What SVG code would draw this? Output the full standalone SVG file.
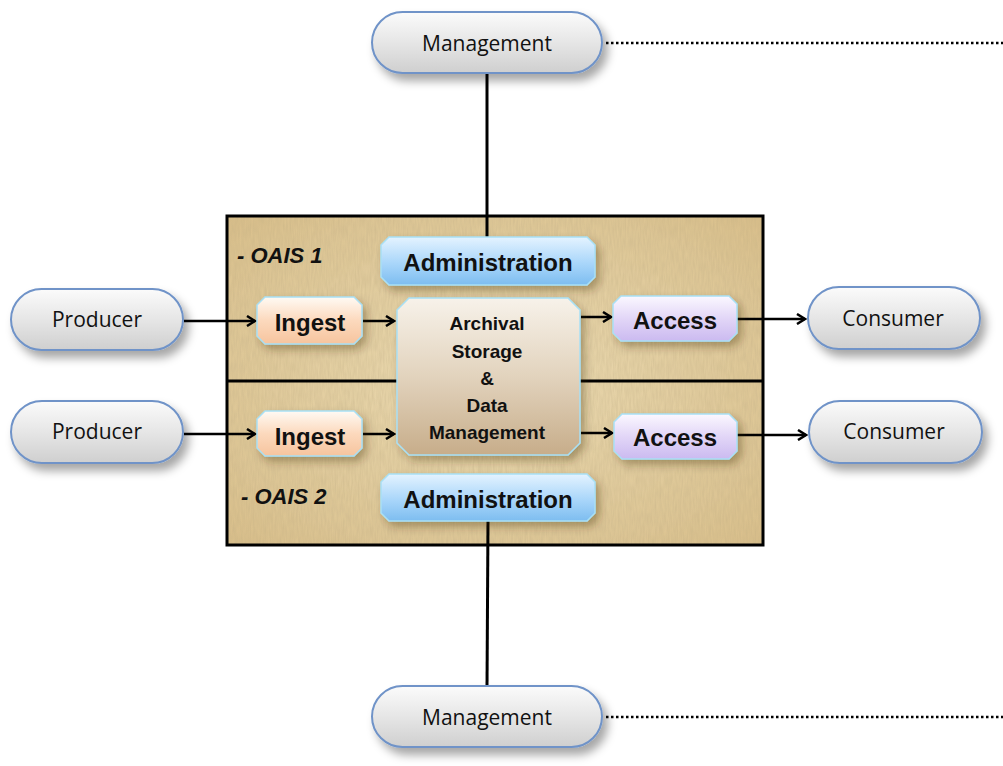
<svg xmlns="http://www.w3.org/2000/svg" width="1003" height="766" viewBox="0 0 1003 766">
<defs>
<linearGradient id="gPill" x1="0" y1="0" x2="0" y2="1"><stop offset="0" stop-color="#fbfbfb"/><stop offset="0.5" stop-color="#e6e6e6"/><stop offset="1" stop-color="#cfcfcf"/></linearGradient>
<linearGradient id="gAdmin" x1="0" y1="0" x2="0" y2="1"><stop offset="0" stop-color="#e4f3ff"/><stop offset="0.55" stop-color="#a9d6fa"/><stop offset="1" stop-color="#7dbdf0"/></linearGradient>
<linearGradient id="gIngest" x1="0" y1="0" x2="0" y2="1"><stop offset="0" stop-color="#fffaf4"/><stop offset="0.5" stop-color="#fcd9bd"/><stop offset="1" stop-color="#f6c49e"/></linearGradient>
<linearGradient id="gAccess" x1="0" y1="0" x2="0" y2="1"><stop offset="0" stop-color="#fbf8ff"/><stop offset="0.5" stop-color="#e2d6f7"/><stop offset="1" stop-color="#cbbaf0"/></linearGradient>
<linearGradient id="gArch" x1="0" y1="0" x2="0" y2="1"><stop offset="0" stop-color="#f7f2ea"/><stop offset="0.5" stop-color="#e2d3bd"/><stop offset="1" stop-color="#c7ad8a"/></linearGradient>
<radialGradient id="gPapyrus" cx="0.5" cy="0.5" r="0.7"><stop offset="0" stop-color="#ecdcb4"/><stop offset="1" stop-color="#d9bf8b"/></radialGradient>
<filter id="tex" x="0" y="0" width="1" height="1">
<feTurbulence type="fractalNoise" baseFrequency="0.6 0.08" numOctaves="2" seed="3" result="n"/>
<feColorMatrix in="n" type="matrix" values="0 0 0 0 0.5  0 0 0 0 0.4  0 0 0 0 0.22  0 0 0 0.5 -0.1" result="c"/>
<feComposite in="c" in2="SourceGraphic" operator="in" result="t"/>
<feMerge><feMergeNode in="SourceGraphic"/><feMergeNode in="t"/></feMerge>
</filter>
<filter id="sh" x="-20%" y="-30%" width="150%" height="180%"><feDropShadow dx="5" dy="7" stdDeviation="5" flood-color="#000" flood-opacity="0.35"/></filter>
<filter id="sh2" x="-20%" y="-30%" width="150%" height="180%"><feDropShadow dx="4" dy="5" stdDeviation="4" flood-color="#3a2a10" flood-opacity="0.35"/></filter>
<marker id="arr" markerWidth="12" markerHeight="12" refX="10" refY="6" orient="auto" markerUnits="userSpaceOnUse">
<path d="M2,1 L10,6 L2,11" fill="none" stroke="#000" stroke-width="2.5" stroke-linejoin="miter"/>
</marker>
<style>
.pill{fill:url(#gPill);stroke:#6f93c8;stroke-width:2;filter:url(#sh)}
.pt{font-family:"Open Sans","Liberation Sans",sans-serif;font-size:21px;fill:#111;text-anchor:middle;dominant-baseline:central}
.bt{font-family:"Liberation Sans",Arial,sans-serif;font-weight:bold;font-size:24px;fill:#111;text-anchor:middle;dominant-baseline:central}
.at{font-family:"Liberation Sans",Arial,sans-serif;font-weight:bold;font-size:19px;fill:#111;text-anchor:middle;dominant-baseline:central}
.ot{font-family:"Liberation Sans",Arial,sans-serif;font-weight:bold;font-style:italic;font-size:22px;fill:#111}
.bx{stroke:#a8e0f5;stroke-width:1.5;filter:url(#sh2)}
.ln{stroke:#000;stroke-width:3;fill:none}
.dot{stroke:#000;stroke-width:2.5;stroke-dasharray:2.5 2.5;fill:none}
.ar{stroke:#000;stroke-width:2.5;fill:none;marker-end:url(#arr)}
</style>
</defs>
<rect width="1003" height="766" fill="#fff"/>

<g id="oais-box">
<rect x="227" y="216" width="536" height="329" fill="url(#gPapyrus)" filter="url(#tex)"/>
<rect x="227" y="216" width="536" height="329" fill="none" stroke="#000" stroke-width="3"/>
<line x1="227" y1="381" x2="763" y2="381" stroke="#000" stroke-width="3"/>
<text class="ot" x="237" y="263">- OAIS  1</text>
<text class="ot" x="241" y="504">- OAIS  2</text>
</g>

<g id="connectors">
<line class="ln" x1="487" y1="73" x2="487" y2="238"/>
<line class="ln" x1="488" y1="520" x2="487" y2="687"/>
<line class="dot" x1="606" y1="43" x2="1003" y2="43"/>
<line class="dot" x1="606" y1="717" x2="1003" y2="717"/>
<line class="ar" x1="184" y1="321" x2="255" y2="321"/>
<line class="ar" x1="363" y1="321" x2="394" y2="321"/>
<line class="ar" x1="581" y1="317" x2="611" y2="317"/>
<line class="ar" x1="737" y1="319" x2="805" y2="319"/>
<line class="ar" x1="184" y1="434" x2="255" y2="434"/>
<line class="ar" x1="363" y1="434" x2="394" y2="434"/>
<line class="ar" x1="581" y1="433" x2="612" y2="433"/>
<line class="ar" x1="737" y1="435" x2="806" y2="435"/>
</g>

<g id="management-1"><rect class="pill" x="372" y="12" width="230" height="61" rx="30.5"/><text class="pt" x="487" y="43">Management</text></g>
<g id="management-2"><rect class="pill" x="372" y="686" width="230" height="61" rx="30.5"/><text class="pt" x="487" y="717">Management</text></g>
<g id="producer-1"><rect class="pill" x="11" y="289" width="172" height="61" rx="30.5"/><text class="pt" x="97" y="319">Producer</text></g>
<g id="producer-2"><rect class="pill" x="11" y="401" width="172" height="62" rx="31"/><text class="pt" x="97" y="431">Producer</text></g>
<g id="consumer-1"><rect class="pill" x="808" y="287" width="172" height="62" rx="31"/><text class="pt" x="893" y="318">Consumer</text></g>
<g id="consumer-2"><rect class="pill" x="809" y="401" width="173" height="62" rx="31"/><text class="pt" x="894" y="431">Consumer</text></g>

<g id="administration-1"><path class="bx" fill="url(#gAdmin)" d="M389,237 H587 L595,245 V277 L587,285 H389 L381,277 V245 Z"/><text class="bt" x="488" y="262">Administration</text></g>
<g id="administration-2"><path class="bx" fill="url(#gAdmin)" d="M389,474 H587 L595,482 V513 L587,521 H389 L381,513 V482 Z"/><text class="bt" x="488" y="499">Administration</text></g>
<g id="ingest-1"><path class="bx" fill="url(#gIngest)" d="M265,297 H354 L362,305 V336 L354,344 H265 L257,336 V305 Z"/><text class="bt" x="310" y="322">Ingest</text></g>
<g id="ingest-2"><path class="bx" fill="url(#gIngest)" d="M265,411 H354 L362,419 V448 L354,456 H265 L257,448 V419 Z"/><text class="bt" x="310" y="436">Ingest</text></g>
<g id="access-1"><path class="bx" fill="url(#gAccess)" d="M621,296 H729 L737,304 V333 L729,341 H621 L613,333 V304 Z"/><text class="bt" x="675" y="320">Access</text></g>
<g id="access-2"><path class="bx" fill="url(#gAccess)" d="M622,414 H729 L737,422 V451 L729,459 H622 L614,451 V422 Z"/><text class="bt" x="675" y="437">Access</text></g>
<g id="archival-storage"><path class="bx" fill="url(#gArch)" d="M409,298 H568 L580,310 V443 L568,455 H409 L397,443 V310 Z"/>
<text class="at" x="487" y="323">Archival</text><text class="at" x="487" y="351">Storage</text><text class="at" x="487" y="378">&amp;</text><text class="at" x="487" y="405">Data</text><text class="at" x="487" y="432">Management</text></g>
</svg>
